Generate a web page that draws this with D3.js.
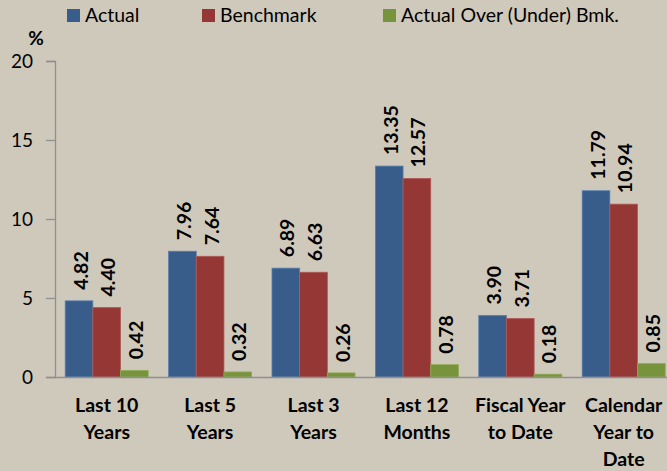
<!DOCTYPE html>
<html>
<head>
<meta charset="utf-8">
<script src="https://cdnjs.cloudflare.com/ajax/libs/d3/7.8.5/d3.min.js"></script>
<style>
  html, body { margin: 0; padding: 0; background: #cfc9bc; }
  svg { display: block; font-family: Lato, "Open Sans", sans-serif; }
</style>
</head>
<body>
<svg id="chart" width="667" height="471"></svg>
<script>
const categories = ["Last 10\nYears", "Last 5\nYears", "Last 3\nYears", "Last 12\nMonths", "Fiscal Year\nto Date", "Calendar\nYear to\nDate"];
const seriesNames = ["Actual", "Benchmark", "Actual Over (Under) Bmk."];
const actual = [4.82, 7.96, 6.89, 13.35, 3.90, 11.79];
const benchmark = [4.40, 7.64, 6.63, 12.57, 3.71, 10.94];
const overUnder = [0.42, 0.32, 0.26, 0.78, 0.18, 0.85];
const yTicks = [0, 5, 10, 15, 20];

const colors = ["#385d8a", "#953735", "#77933c"];
const strokes = ["#5a7fb0", "#b05a58", "#8fab55"];

const svg = d3.select("#chart");
const plotLeft = 55, plotRight = 675.4, plotTop = 61, plotBottom = 377;

const series = [actual, benchmark, overUnder];
const rows = categories.map((c, i) => ({cat: c, values: series.map(s => s[i])}));

const x = d3.scaleBand()
    .domain(categories)
    .range([plotLeft, plotRight])
    .paddingInner(0.197)
    .paddingOuter(0.0985);

const x1 = d3.scaleBand()
    .domain(seriesNames)
    .range([0, x.bandwidth()]);

const y = d3.scaleLinear()
    .domain([0, 20])
    .range([plotBottom, plotTop]);

// y axis
const yAxis = d3.axisLeft(y).tickValues(yTicks).tickSize(9).tickPadding(13);
const gy = svg.append("g")
    .attr("transform", `translate(${plotLeft},0)`)
    .call(yAxis);
gy.select(".domain").attr("stroke", "#8f8f8f").attr("stroke-width", 1.3);
gy.selectAll(".tick line").attr("stroke", "#8f8f8f").attr("stroke-width", 1.3);
gy.selectAll(".tick text")
    .attr("font-size", 19)
    .attr("fill", "#000")
    .attr("font-family", "Lato, sans-serif")
    .attr("dy", "0.36em");

svg.append("text")
    .attr("x", 36)
    .attr("y", 45)
    .attr("text-anchor", "middle")
    .attr("font-size", 19)
    .attr("font-weight", "bold")
    .text("%");

// bars
const groups = svg.append("g").selectAll("g")
    .data(rows)
    .join("g")
    .attr("transform", d => `translate(${x(d.cat)},0)`);

groups.selectAll("rect")
    .data(d => d.values.map((v, k) => ({name: seriesNames[k], k: k, v: v})))
    .join("rect")
    .attr("x", d => x1(d.name))
    .attr("y", d => y(d.v))
    .attr("width", x1.bandwidth())
    .attr("height", d => y(0) - y(d.v))
    .attr("fill", d => colors[d.k])
    .attr("stroke", d => strokes[d.k])
    .attr("stroke-width", 0.8);

groups.selectAll("text.val")
    .data(d => d.values.map((v, k) => ({name: seriesNames[k], k: k, v: v})))
    .join("text")
    .attr("class", "val")
    .attr("transform", d => `translate(${x1(d.name) + x1.bandwidth() / 2 + 1},${y(d.v) - 11}) rotate(-90)`)
    .attr("dominant-baseline", "central")
    .attr("font-size", 19.5)
    .attr("font-weight", "bold")
    .attr("fill", "#000")
    .text(d => d.v.toFixed(2));

// x axis line
svg.append("line")
    .attr("x1", plotLeft)
    .attr("x2", 667)
    .attr("y1", plotBottom + 0.5)
    .attr("y2", plotBottom + 0.5)
    .attr("stroke", "#8f8f8f")
    .attr("stroke-width", 1.3);

// category labels
const catLabels = svg.append("g").selectAll("text")
    .data(categories)
    .join("text")
    .attr("x", d => x(d) + x.bandwidth() / 2)
    .attr("y", 412)
    .attr("text-anchor", "middle")
    .attr("font-size", 19.5)
    .attr("font-weight", "bold")
    .attr("fill", "#000");
catLabels.selectAll("tspan")
    .data(d => d.split("\n"))
    .join("tspan")
    .attr("x", function() { return this.parentNode.getAttribute("x"); })
    .attr("dy", (d, i) => i === 0 ? 0 : 27)
    .text(d => d);

// legend
const legendX = [67, 202, 383];
const legend = svg.append("g").selectAll("g")
    .data(seriesNames)
    .join("g")
    .attr("transform", (d, i) => `translate(${legendX[i]},9)`);
legend.append("rect")
    .attr("width", 13)
    .attr("height", 13)
    .attr("fill", (d, i) => colors[i]);
legend.append("text")
    .attr("x", 18)
    .attr("y", 13)
    .attr("font-size", 19.5)
    .attr("fill", "#000")
    .text(d => d);
</script>
</body>
</html>
